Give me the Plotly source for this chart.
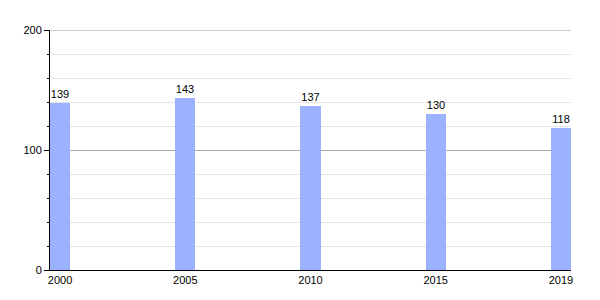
import plotly.graph_objects as go

years = ["2000", "2005", "2010", "2015", "2019"]
values = [139, 143, 137, 130, 118]
y_max = 200

fig = go.Figure(go.Bar(
    x=years, y=values, width=0.16,
    marker=dict(color="#9db2ff", line=dict(width=0)),
    text=[str(v) for v in values], textposition="outside",
    textfont=dict(size=11, color="#000", family="Liberation Sans, Arial"),
    cliponaxis=False,
))

fig.update_layout(
    width=600, height=300,
    margin=dict(l=50, r=29, t=30, b=30),
    plot_bgcolor="white", paper_bgcolor="white",
    font=dict(family="Liberation Sans, Arial", size=11, color="#000"),
    showlegend=False,
    bargap=0,
    shapes=[dict(type="line", xref="paper", x0=0, x1=1, yref="y", y0=y_max, y1=y_max,
                 line=dict(color="#999999", width=1), layer="above")],
)
fig.update_xaxes(
    type="category", range=[-0.08, 4.08],
    showline=True, linecolor="#000", linewidth=1,
    ticks="", showgrid=False, tickfont=dict(size=11),
)
fig.update_yaxes(
    range=[0, y_max], dtick=100, tick0=0,
    showline=True, linecolor="#000", linewidth=1,
    ticks="outside", ticklen=5, tickcolor="#000",
    gridcolor="#aaaaaa", gridwidth=1,
    zeroline=False,
    minor=dict(dtick=20, ticks="outside", ticklen=2, tickcolor="#000",
               showgrid=True, gridcolor="#e4e4e4", gridwidth=1),
    tickfont=dict(size=11),
)

fig.write_html("out.html")
